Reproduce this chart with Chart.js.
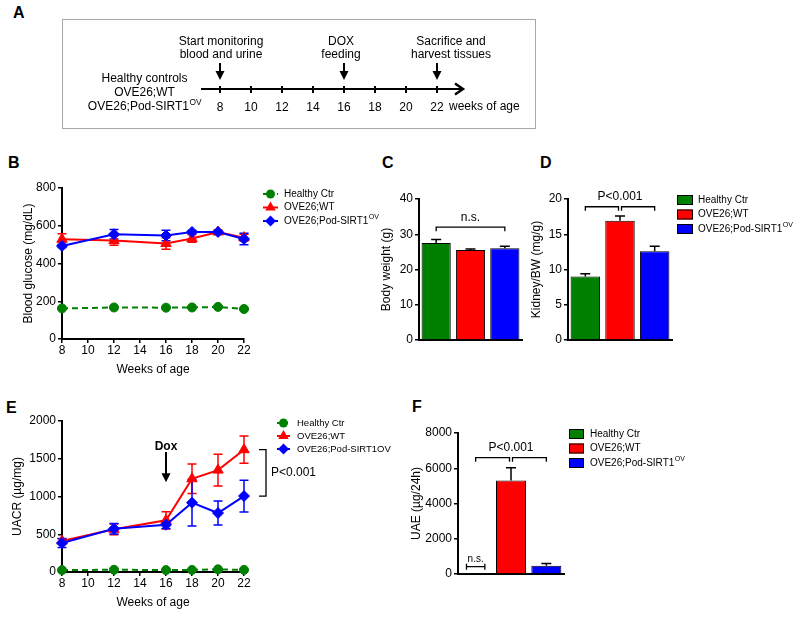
<!DOCTYPE html>
<html lang="en">
<head>
<meta charset="UTF-8">
<title>SIRT1 overexpression in OVE26 mice</title>
<style>
  body { margin: 0; background: #fff; font-family: Arial, "Liberation Sans", sans-serif; }
  #page { position: relative; width: 800px; height: 617px; overflow: hidden; background: #fff; }
  #page canvas { position: absolute; }
  .letter { position: absolute; font-weight: bold; font-size: 16px; line-height: 16px; color: #000; }
  .timeline-box { position: absolute; left: 62px; top: 19px; width: 474px; height: 110px; border: 1px solid #a8a8a8; box-sizing: border-box; }
</style>
</head>
<body>
<div id="page">
  <div class="timeline-box"></div>
  <div class="letter" style="left:13px;top:5px">A</div>
  <div class="letter" style="left:8px;top:155px">B</div>
  <div class="letter" style="left:382px;top:155px">C</div>
  <div class="letter" style="left:540px;top:155px">D</div>
  <div class="letter" style="left:6px;top:400px">E</div>
  <div class="letter" style="left:412px;top:399px">F</div>
  <canvas id="chartA"></canvas>
  <canvas id="chartB"></canvas>
  <canvas id="chartC"></canvas>
  <canvas id="chartD"></canvas>
  <canvas id="chartE"></canvas>
  <canvas id="chartF"></canvas>
</div>

<script src="https://cdn.jsdelivr.net/npm/chart.js"></script>
<script>
const fontFamily = 'Arial, "Liberation Sans", sans-serif';

// ---- data ----
const timelineWeeks = [8, 10, 12, 14, 16, 18, 20, 22];
const eventWeeks = [8, 16, 22];
const eventLabels = [['Start monitoring', 'blood and urine'], ['DOX', 'feeding'], ['Sacrifice and', 'harvest tissues']];
const cohorts = ['Healthy controls', 'OVE26;WT', 'OVE26;Pod-SIRT1^OV'];

const groups = ['Healthy Ctr', 'OVE26;WT', 'OVE26;Pod-SIRT1^OV'];
const groupsE = ['Healthy Ctr', 'OVE26;WT', 'OVE26;Pod-SIRT1OV'];

const weeks = [8, 12, 16, 18, 20, 22];
const weekTicks = [8, 10, 12, 14, 16, 18, 20, 22];

const glucoseCtr = [162, 167, 166, 167, 170, 159];
const glucoseCtrErr = [5, 4, 4, 4, 4, 4];
const glucoseWT = [528, 522, 506, 532, 567, 537];
const glucoseWTErr = [30, 25, 30, 20, 10, 18];
const glucoseSirt = [493, 555, 548, 567, 567, 530];
const glucoseSirtErr = [8, 25, 28, 8, 6, 30];

const bodyWeight = [27.5, 25.5, 26.0];
const bodyWeightErr = [1.0, 0.3, 0.6];
const kidneyBW = [9.0, 16.9, 12.6];
const kidneyBWErr = [0.4, 0.7, 0.7];

const uacrCtr = [25, 30, 25, 28, 35, 28];
const uacrCtrErr = [5, 5, 5, 5, 8, 5];
const uacrWT = [410, 565, 684, 1235, 1350, 1620];
const uacrWTErr = [30, 70, 115, 195, 210, 180];
const uacrSirt = [384, 574, 626, 918, 781, 1006];
const uacrSirtErr = [60, 70, 50, 310, 160, 210];

const uae = [20, 5300, 470];
const uaeErr = [0, 730, 130];

// ---- styles ----
const palette = ['#008000', '#ff0000', '#0000ff'];
const seriesStyle = [
  { pointStyle: 'circle', radius: 4.5, dash: [6, 4] },
  { pointStyle: 'triangle', radius: 6, dash: [] },
  { pointStyle: 'rectRot', radius: 5.5, dash: [] }
];

Chart.defaults.font.family = fontFamily;
Chart.defaults.color = '#000';

const extras = {};

// text with an optional ^superscript part
function drawRich(ctx, text, x, y, size, align) {
  const [main, sup] = text.split('^');
  ctx.font = size + 'px ' + fontFamily;
  const w1 = ctx.measureText(main).width;
  ctx.font = (size * 0.7) + 'px ' + fontFamily;
  const w2 = sup ? ctx.measureText(sup).width : 0;
  let x0 = x;
  if (align === 'center') x0 = x - (w1 + w2) / 2;
  ctx.textAlign = 'left';
  ctx.textBaseline = 'middle';
  ctx.font = size + 'px ' + fontFamily;
  ctx.fillText(main, x0, y);
  if (sup) {
    ctx.font = (size * 0.7) + 'px ' + fontFamily;
    ctx.fillText(sup, x0 + w1 + 0.5, y - size * 0.35);
  }
}

function drawMarker(ctx, style, x, y, r, color) {
  ctx.fillStyle = color;
  ctx.beginPath();
  if (style === 'circle') {
    ctx.arc(x, y, r, 0, Math.PI * 2);
  } else if (style === 'triangle') {
    ctx.moveTo(x, y - r);
    ctx.lineTo(x + r * 0.87, y + r * 0.5);
    ctx.lineTo(x - r * 0.87, y + r * 0.5);
    ctx.closePath();
  } else {
    ctx.moveTo(x, y - r);
    ctx.lineTo(x + r, y);
    ctx.lineTo(x, y + r);
    ctx.lineTo(x - r, y);
    ctx.closePath();
  }
  ctx.fill();
}

function drawErrorBars(chart, after) {
  const ctx = chart.ctx, ys = chart.scales.y;
  const isBar = chart.config.type === 'bar';
  if (isBar !== after) return;
  chart.data.datasets.forEach((ds, i) => {
    if (!ds.errors) return;
    const meta = chart.getDatasetMeta(i);
    ctx.save();
    ctx.strokeStyle = isBar ? '#000' : ds.borderColor;
    ctx.lineWidth = 1.5;
    ctx.setLineDash([]);
    meta.data.forEach((el, j) => {
      const e = ds.errors[j];
      if (!e) return;
      const v = meta.controller.getParsed(j).y;
      const top = ys.getPixelForValue(v + e);
      const bot = isBar ? el.y : ys.getPixelForValue(v - e);
      const half = isBar ? 5 : 4.5;
      ctx.beginPath();
      ctx.moveTo(el.x, bot);
      ctx.lineTo(el.x, top);
      ctx.moveTo(el.x - half, top);
      ctx.lineTo(el.x + half, top);
      if (!isBar) {
        ctx.moveTo(el.x - half, bot);
        ctx.lineTo(el.x + half, bot);
      }
      ctx.stroke();
    });
    ctx.restore();
  });
}

function drawLegend(chart, L) {
  const ctx = chart.ctx, a = chart.chartArea;
  L.labels.forEach((label, i) => {
    const y = a.top + L.dy + i * L.step;
    const x0 = a.right + L.dx;
    ctx.save();
    if (L.kind === 'line') {
      const ds = chart.data.datasets[i];
      ctx.strokeStyle = ds.borderColor;
      ctx.lineWidth = 2;
      ctx.setLineDash(ds.borderDash.length ? [4, 3] : []);
      ctx.beginPath();
      ctx.moveTo(x0, y);
      ctx.lineTo(x0 + L.w, y);
      ctx.stroke();
      ctx.setLineDash([]);
      drawMarker(ctx, ds.pointStyle, x0 + L.w / 2, y, ds.pointRadius, ds.borderColor);
    } else {
      ctx.fillStyle = palette[i];
      ctx.fillRect(x0, y - L.h / 2, L.w, L.h);
      ctx.strokeStyle = '#000';
      ctx.lineWidth = 1;
      ctx.strokeRect(x0 + 0.5, y - L.h / 2 + 0.5, L.w - 1, L.h - 1);
    }
    ctx.fillStyle = '#000';
    drawRich(ctx, label, x0 + L.w + L.gap, y, L.size, 'left');
    ctx.restore();
  });
}

function drawMark(chart, m) {
  const ctx = chart.ctx, xs = chart.scales.x, ys = chart.scales.y;
  ctx.save();
  ctx.strokeStyle = '#000';
  ctx.fillStyle = '#000';
  ctx.lineWidth = 1.3;
  if (m.type === 'bracket') {
    const x1 = xs.getPixelForValue(m.from) + (m.trimFrom || 0);
    const x2 = xs.getPixelForValue(m.to) - (m.trimTo || 0);
    const y = ys.getPixelForValue(m.level);
    ctx.beginPath();
    ctx.moveTo(x1, y + m.drop); ctx.lineTo(x1, y); ctx.lineTo(x2, y); ctx.lineTo(x2, y + m.drop);
    ctx.stroke();
  } else if (m.type === 'span') {
    const x1 = xs.getPixelForValue(m.from), x2 = xs.getPixelForValue(m.to);
    const y = ys.getPixelForValue(m.level);
    ctx.beginPath();
    ctx.moveTo(x1, y); ctx.lineTo(x2, y);
    ctx.moveTo(x1, y - m.cap); ctx.lineTo(x1, y + m.cap);
    ctx.moveTo(x2, y - m.cap); ctx.lineTo(x2, y + m.cap);
    ctx.stroke();
  } else if (m.type === 'vbracket') {
    const x = xs.getPixelForValue(m.at) + m.dx;
    const y1 = ys.getPixelForValue(m.from), y2 = ys.getPixelForValue(m.to);
    ctx.beginPath();
    ctx.moveTo(x - m.tick, y1); ctx.lineTo(x, y1); ctx.lineTo(x, y2); ctx.lineTo(x - m.tick, y2);
    ctx.stroke();
  } else if (m.type === 'arrow') {
    const x = xs.getPixelForValue(m.at);
    const y1 = ys.getPixelForValue(m.from), y2 = ys.getPixelForValue(m.to);
    ctx.lineWidth = 2;
    ctx.beginPath();
    ctx.moveTo(x, y1); ctx.lineTo(x, y2 - 6);
    ctx.stroke();
    ctx.beginPath();
    ctx.moveTo(x - 4.5, y2 - 9); ctx.lineTo(x + 4.5, y2 - 9); ctx.lineTo(x, y2);
    ctx.closePath();
    ctx.fill();
  } else if (m.type === 'text') {
    const x = xs.getPixelForValue(m.at) + (m.dx || 0);
    const y = ys.getPixelForValue(m.level) + (m.dy || 0);
    ctx.font = (m.bold ? 'bold ' : '') + m.size + 'px ' + fontFamily;
    ctx.textAlign = m.align || 'center';
    ctx.textBaseline = 'middle';
    ctx.fillText(m.text, x, y);
  }
  ctx.restore();
}

function drawTimeline(chart, T) {
  const ctx = chart.ctx, a = chart.chartArea, xs = chart.scales.x;
  ctx.save();
  ctx.strokeStyle = '#000';
  ctx.fillStyle = '#000';
  // arrow head of the time axis
  ctx.lineWidth = 2.5;
  ctx.beginPath();
  ctx.moveTo(a.right - 8, a.bottom - 5.5);
  ctx.lineTo(a.right, a.bottom);
  ctx.lineTo(a.right - 8, a.bottom + 5.5);
  ctx.stroke();
  T.weeks.forEach((w, i) => {
    const x = xs.getPixelForValue(w);
    ctx.lineWidth = 2;
    ctx.beginPath();
    ctx.moveTo(x, a.top - 23);
    ctx.lineTo(x, a.top - 12);
    ctx.stroke();
    ctx.beginPath();
    ctx.moveTo(x - 4.5, a.top - 15);
    ctx.lineTo(x + 4.5, a.top - 15);
    ctx.lineTo(x, a.top - 6);
    ctx.closePath();
    ctx.fill();
    ctx.font = '12px ' + fontFamily;
    ctx.textAlign = 'center';
    ctx.textBaseline = 'middle';
    T.labels[i].forEach((line, k) => ctx.fillText(line, x + T.shift[i], a.top - 44.5 + k * 12.8));
  });
  T.cohorts.forEach((c, k) => drawRich(ctx, c, a.left - 57.5, a.bottom - 10 + k * 14, 12, 'center'));
  ctx.font = '12px ' + fontFamily;
  ctx.textAlign = 'left';
  ctx.fillText(T.caption, a.right - 14, a.bottom + 18);
  ctx.restore();
}

Chart.register({
  id: 'overlay',
  beforeDatasetsDraw(chart) { drawErrorBars(chart, false); },
  afterDatasetsDraw(chart) {
    drawErrorBars(chart, true);
    const ex = extras[chart.canvas.id];
    if (!ex) return;
    if (ex.legend) drawLegend(chart, ex.legend);
    (ex.marks || []).forEach(m => drawMark(chart, m));
    if (ex.timeline) drawTimeline(chart, ex.timeline);
  }
});

// ---- layout helpers ----
function frame(id, box, area) {
  const c = document.getElementById(id);
  c.width = box.w;
  c.height = box.h;
  c.style.left = box.x + 'px';
  c.style.top = box.y + 'px';
  return {
    padding: { left: 0, top: area.t - box.y, right: box.x + box.w - area.r, bottom: 0 },
    yWidth: area.l - box.x,
    xHeight: box.y + box.h - area.b
  };
}

const plainNumber = v => String(v);

function yAxis(f, min, max, step, title, titleGap) {
  return {
    min, max,
    ticks: { stepSize: step, color: '#000', font: { size: 12 }, padding: 2, callback: plainNumber },
    grid: { drawOnChartArea: false, tickLength: 4, color: '#000', lineWidth: 1.5 },
    border: { color: '#000', width: 2 },
    title: { display: true, text: title, color: '#000', font: { size: 12 }, padding: { top: titleGap, bottom: 0 } },
    afterFit(s) { s.width = f.yWidth; s.paddingTop = 0; s.paddingBottom = 0; }
  };
}

function weekAxis(f, titleGap) {
  return {
    type: 'linear', min: 8, max: 22,
    afterBuildTicks(s) { s.ticks = weekTicks.map(v => ({ value: v })); },
    ticks: { color: '#000', font: { size: 12 }, padding: 0.5, callback: plainNumber },
    grid: { drawOnChartArea: false, tickLength: 4, color: '#000', lineWidth: 1.5 },
    border: { color: '#000', width: 2 },
    title: { display: true, text: 'Weeks of age', color: '#000', font: { size: 12 }, padding: { top: 0, bottom: titleGap } },
    afterFit(s) { s.height = f.xHeight; s.paddingLeft = 0; s.paddingRight = 0; }
  };
}

function groupAxis(f) {
  return {
    type: 'category',
    ticks: { display: false },
    grid: { display: false },
    border: { color: '#000', width: 2 },
    afterFit(s) { s.height = f.xHeight; s.paddingLeft = 0; s.paddingRight = 0; }
  };
}

function baseOptions(f, scales) {
  return {
    responsive: false,
    animation: false,
    events: [],
    layout: { padding: f.padding },
    plugins: { legend: { display: false }, tooltip: { enabled: false } },
    scales
  };
}

function lineSet(values, errors, k, order) {
  const s = seriesStyle[k];
  return {
    data: weeks.map((w, i) => ({ x: w, y: values[i] })),
    errors,
    borderColor: palette[k],
    backgroundColor: palette[k],
    borderWidth: 2,
    borderDash: s.dash,
    pointStyle: s.pointStyle,
    pointRadius: s.radius,
    pointBorderWidth: 1,
    pointBackgroundColor: palette[k],
    pointBorderColor: palette[k],
    tension: 0,
    clip: false,
    order
  };
}

function barSet(values, errors) {
  return {
    data: values,
    errors,
    backgroundColor: palette,
    borderColor: '#000',
    borderWidth: 1,
    barPercentage: 0.85,
    categoryPercentage: 1
  };
}

// ---- A: study timeline ----
const fA = frame('chartA', { x: 62, y: 19, w: 474, h: 110 }, { l: 202, t: 86, r: 463, b: 89 });
fA.padding.left = 140;
extras.chartA = {
  timeline: { weeks: eventWeeks, labels: eventLabels, shift: [1, -3, 14], cohorts, caption: 'weeks of age' }
};
new Chart('chartA', {
  type: 'scatter',
  data: { datasets: [] },
  options: baseOptions(fA, {
    x: {
      type: 'linear', min: 8 - 18 / 15.5, max: 22 + 26 / 15.5,
      afterBuildTicks(s) { s.ticks = timelineWeeks.map(v => ({ value: v })); },
      ticks: { color: '#000', font: { size: 12 }, padding: 7, callback: plainNumber },
      grid: { drawOnChartArea: true, tickLength: 4, color: '#000', lineWidth: 2 },
      border: { color: '#000', width: 2 },
      afterFit(s) { s.height = fA.xHeight; s.paddingLeft = 0; s.paddingRight = 0; }
    },
    y: { display: false, min: 0, max: 1 }
  })
});

// ---- B: blood glucose ----
const fB = frame('chartB', { x: 0, y: 170, w: 390, h: 215 }, { l: 62, t: 188, r: 244, b: 339 });
extras.chartB = { legend: { kind: 'line', labels: groups, dx: 19, dy: 6, step: 13.5, w: 15, gap: 6, size: 10 } };
new Chart('chartB', {
  type: 'line',
  data: { datasets: [
    lineSet(glucoseCtr, glucoseCtrErr, 0, 2),
    lineSet(glucoseWT, glucoseWTErr, 1, 1),
    lineSet(glucoseSirt, glucoseSirtErr, 2, 0)
  ] },
  options: baseOptions(fB, { x: weekAxis(fB, 7.8), y: yAxis(fB, 0, 800, 200, 'Blood glucose (mg/dL)', 21.3) })
});

// ---- C: body weight ----
const fC = frame('chartC', { x: 370, y: 175, w: 160, h: 175 }, { l: 419, t: 199, r: 522, b: 340 });
extras.chartC = { marks: [
  { type: 'bracket', from: 0, to: 2, level: 32, drop: 4 },
  { type: 'text', at: 1, level: 32, dy: -9.5, text: 'n.s.', size: 12 }
] };
new Chart('chartC', {
  type: 'bar',
  data: { labels: groups, datasets: [barSet(bodyWeight, bodyWeightErr)] },
  options: baseOptions(fC, { x: groupAxis(fC), y: yAxis(fC, 0, 40, 10, 'Body weight (g)', 9.5) })
});

// ---- D: kidney / body weight ----
const fD = frame('chartD', { x: 525, y: 175, w: 275, h: 175 }, { l: 568, t: 199, r: 672, b: 340 });
extras.chartD = {
  legend: { kind: 'box', labels: groups, dx: 5, dy: 1, step: 14.5, w: 16, h: 10, gap: 5, size: 10 },
  marks: [
    { type: 'bracket', from: 0, to: 1, level: 18.9, drop: 4, trimTo: 1.5 },
    { type: 'bracket', from: 1, to: 2, level: 18.9, drop: 4, trimFrom: 1.5 },
    { type: 'text', at: 1, level: 18.9, dy: -10, text: 'P<0.001', size: 12 }
  ]
};
new Chart('chartD', {
  type: 'bar',
  data: { labels: groups, datasets: [barSet(kidneyBW, kidneyBWErr)] },
  options: baseOptions(fD, { x: groupAxis(fD), y: yAxis(fD, 0, 20, 5, 'Kidney/BW (mg/g)', 4.5) })
});

// ---- E: UACR ----
const fE = frame('chartE', { x: 0, y: 410, w: 410, h: 207 }, { l: 62, t: 421, r: 244, b: 572 });
extras.chartE = {
  legend: { kind: 'line', labels: groupsE, dx: 33, dy: 2, step: 13, w: 13, gap: 7, size: 9.5 },
  marks: [
    { type: 'arrow', at: 16, from: 1590, to: 1190 },
    { type: 'text', at: 16, level: 1660, text: 'Dox', size: 12, bold: true },
    { type: 'vbracket', at: 22, dx: 22, tick: 7, from: 1620, to: 1006 },
    { type: 'text', at: 22, dx: 27, level: 1313, text: 'P<0.001', size: 12, align: 'left' }
  ]
};
new Chart('chartE', {
  type: 'line',
  data: { datasets: [
    lineSet(uacrCtr, uacrCtrErr, 0, 2),
    lineSet(uacrWT, uacrWTErr, 1, 1),
    lineSet(uacrSirt, uacrSirtErr, 2, 0)
  ] },
  options: baseOptions(fE, { x: weekAxis(fE, 6.8), y: yAxis(fE, 0, 2000, 500, 'UACR (\u00b5g/mg)', 10.8) })
});

// ---- F: UAE ----
const fF = frame('chartF', { x: 400, y: 420, w: 400, h: 170 }, { l: 458, t: 433, r: 564, b: 574 });
extras.chartF = {
  legend: { kind: 'box', labels: groups, dx: 5, dy: 1, step: 14.5, w: 15, h: 10, gap: 6, size: 10 },
  marks: [
    { type: 'bracket', from: 0, to: 1, level: 6600, drop: 4, trimTo: 1.5 },
    { type: 'bracket', from: 1, to: 2, level: 6600, drop: 4, trimFrom: 1.5 },
    { type: 'text', at: 1, level: 6600, dy: -10, text: 'P<0.001', size: 12 },
    { type: 'span', from: -0.26, to: 0.26, level: 415, cap: 3 },
    { type: 'text', at: 0, level: 415, dy: -7, text: 'n.s.', size: 10 }
  ]
};
new Chart('chartF', {
  type: 'bar',
  data: { labels: groups, datasets: [barSet(uae, uaeErr)] },
  options: baseOptions(fF, { x: groupAxis(fF), y: yAxis(fF, 0, 8000, 2000, 'UAE (\u00b5g/24h)', 9.5) })
});
</script>
</body>
</html>
